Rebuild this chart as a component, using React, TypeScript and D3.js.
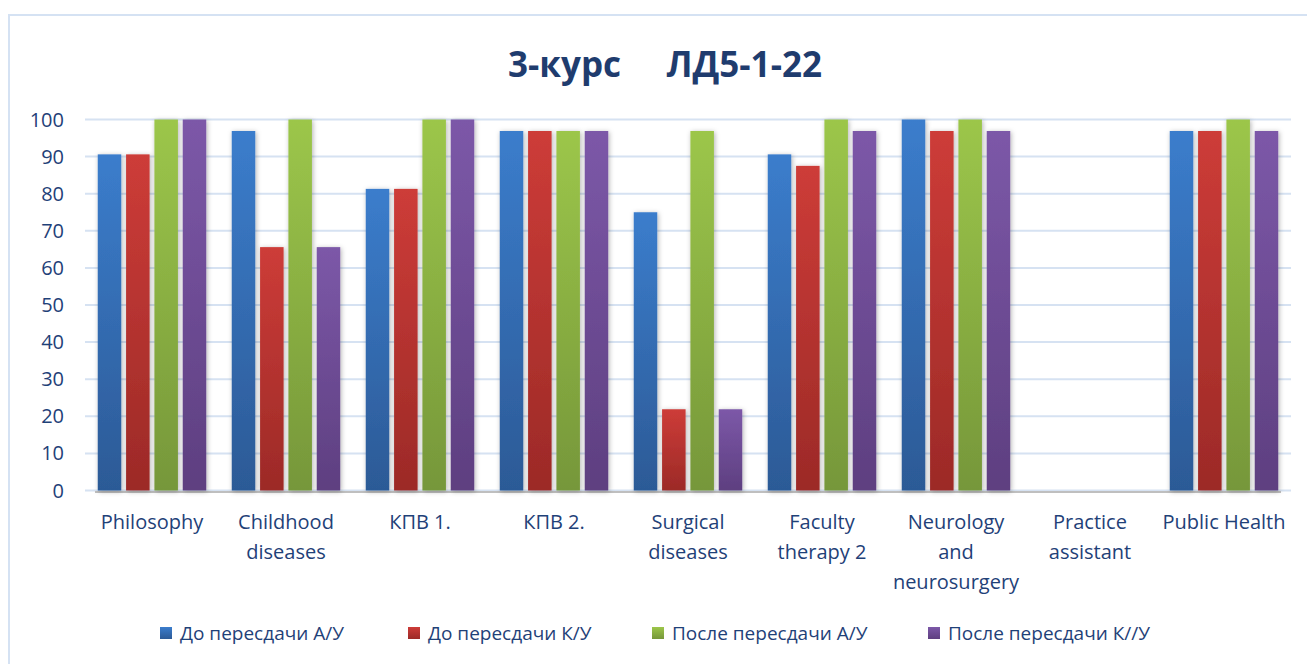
import React, { useEffect, useRef } from 'react'
import * as d3 from 'd3'

const categories = [
  ['Philosophy'],
  ['Childhood', 'diseases'],
  ['КПВ 1.'],
  ['КПВ 2.'],
  ['Surgical', 'diseases'],
  ['Faculty', 'therapy 2'],
  ['Neurology', 'and', 'neurosurgery'],
  ['Practice', 'assistant'],
  ['Public Health'],
]
const seriesNames = ['До пересдачи А/У', 'До пересдачи К/У', 'После пересдачи А/У', 'После пересдачи К//У']
const beforeAU = [90.6, 96.9, 81.3, 96.9, 75, 90.6, 100, 0, 96.9]
const beforeKU = [90.6, 65.6, 81.3, 96.9, 21.9, 87.5, 96.9, 0, 96.9]
const afterAU = [100, 100, 100, 96.9, 96.9, 100, 100, 0, 100]
const afterKU = [100, 65.6, 100, 96.9, 21.9, 96.9, 96.9, 0, 96.9]
const yTicks = [0, 10, 20, 30, 40, 50, 60, 70, 80, 90, 100]

const topColors = ['#3b7dcc', '#cd3c38', '#9cc64a', '#7c58a8']
const bottomColors = ['#2c5a96', '#9c2a27', '#76973a', '#5e3f80']
const textColor = '#1f4178'

const App = () => {
  const ref = useRef<SVGSVGElement>(null)

  useEffect(() => {
    const width = 1307
    const height = 664
    const margin = { top: 119.5, right: 16, bottom: 173.5, left: 85 }
    const values = [beforeAU, beforeKU, afterAU, afterKU]

    const svg = d3.select(ref.current)
    svg.selectAll('*').remove()

    const defs = svg.append('defs')
    topColors.forEach((c, i) => {
      const g = defs
        .append('linearGradient')
        .attr('id', `grad${i}`)
        .attr('x1', 0)
        .attr('y1', 0)
        .attr('x2', 0)
        .attr('y2', 1)
      g.append('stop').attr('offset', '0%').attr('stop-color', c)
      g.append('stop').attr('offset', '100%').attr('stop-color', bottomColors[i])
    })
    const shadow = defs
      .append('filter')
      .attr('id', 'shadow')
      .attr('x', '-40%')
      .attr('y', '-10%')
      .attr('width', '180%')
      .attr('height', '120%')
    shadow
      .append('feDropShadow')
      .attr('dx', 1)
      .attr('dy', 1)
      .attr('stdDeviation', 2.5)
      .attr('flood-color', '#000')
      .attr('flood-opacity', 0.3)

    // chart frame
    svg
      .append('rect')
      .attr('x', 9)
      .attr('y', 15)
      .attr('width', width + 20)
      .attr('height', height + 20)
      .attr('fill', 'white')
      .attr('stroke', '#d5e2f3')
      .attr('stroke-width', 2)

    const innerH = height - margin.top - margin.bottom
    const y = d3.scaleLinear().domain([0, 100]).range([margin.top + innerH, margin.top])
    const x0 = d3
      .scaleBand()
      .domain(categories.map((_, i) => String(i)))
      .range([margin.left, width - margin.right])
    const x1 = d3
      .scaleBand()
      .domain(seriesNames)
      .range([0, x0.bandwidth()])
      .paddingInner(0.17)
      .paddingOuter(0.45)

    // gridlines
    svg
      .append('g')
      .selectAll('line')
      .data(yTicks)
      .enter()
      .append('line')
      .attr('x1', margin.left)
      .attr('x2', width - margin.right)
      .attr('y1', (d) => y(d))
      .attr('y2', (d) => y(d))
      .attr('stroke', '#d6e2f2')
      .attr('stroke-width', 2)

    // y labels
    svg
      .append('g')
      .selectAll('text')
      .data(yTicks)
      .enter()
      .append('text')
      .attr('x', 64)
      .attr('y', (d) => y(d))
      .attr('dy', '0.35em')
      .attr('text-anchor', 'end')
      .attr('fill', textColor)
      .style('font-family', 'Open Sans, sans-serif')
      .style('font-size', '20px')
      .text((d) => d)

    // baseline shadow
    svg
      .append('line')
      .attr('x1', margin.left + 10)
      .attr('x2', width - margin.right - 10)
      .attr('y1', y(0) + 1.5)
      .attr('y2', y(0) + 1.5)
      .attr('stroke', '#bfbfbf')
      .attr('stroke-width', 2)

    const groups = svg
      .append('g')
      .selectAll('g')
      .data(categories.map((_, i) => i))
      .enter()
      .append('g')
      .attr('transform', (i) => `translate(${x0(String(i))},0)`)

    groups
      .selectAll('rect')
      .data((i) => values.map((v, s) => ({ s, v: v[i] })).filter((d) => d.v > 0))
      .enter()
      .append('rect')
      .attr('x', (d) => x1(seriesNames[d.s]) as number)
      .attr('y', (d) => y(d.v))
      .attr('width', x1.bandwidth())
      .attr('height', (d) => y(0) - y(d.v))
      .attr('fill', (d) => `url(#grad${d.s})`)
      .attr('filter', 'url(#shadow)')

    // x labels
    const labels = svg
      .append('g')
      .selectAll('text')
      .data(categories)
      .enter()
      .append('text')
      .attr('x', (_, i) => (x0(String(i)) as number) + x0.bandwidth() / 2)
      .attr('y', 529)
      .attr('text-anchor', 'middle')
      .attr('fill', textColor)
      .style('font-family', 'Open Sans, sans-serif')
      .style('font-size', '20px')
    labels
      .selectAll('tspan')
      .data((d) => d)
      .enter()
      .append('tspan')
      .attr('x', function () {
        return (this.parentNode as SVGTextElement).getAttribute('x')
      })
      .attr('dy', (_, j) => (j === 0 ? 0 : 30))
      .text((d) => d)

    // title
    svg
      .append('text')
      .attr('x', 665)
      .attr('y', 77)
      .attr('text-anchor', 'middle')
      .attr('fill', '#1f3c6e')
      .style('font-family', 'Open Sans, sans-serif')
      .style('font-size', '35px')
      .style('font-weight', 'bold')
      .style('white-space', 'pre')
      .text('3-курс     ЛД5-1-22')

    // legend
    const legendX = [160, 408, 652, 928]
    const legend = svg
      .append('g')
      .selectAll('g')
      .data(seriesNames)
      .enter()
      .append('g')
      .attr('transform', (_, i) => `translate(${legendX[i]},633)`)
    legend
      .append('rect')
      .attr('x', 0)
      .attr('y', -6)
      .attr('width', 12)
      .attr('height', 12)
      .attr('fill', (_, i) => `url(#grad${i})`)
    legend
      .append('text')
      .attr('x', 20)
      .attr('y', 0)
      .attr('dy', '0.35em')
      .attr('fill', textColor)
      .style('font-family', 'Open Sans, sans-serif')
      .style('font-size', '19px')
      .text((d) => d)
  }, [])

  return <svg ref={ref} width={1307} height={664} style={{ position: 'absolute', left: 0, top: 0 }} />
}

export default App
